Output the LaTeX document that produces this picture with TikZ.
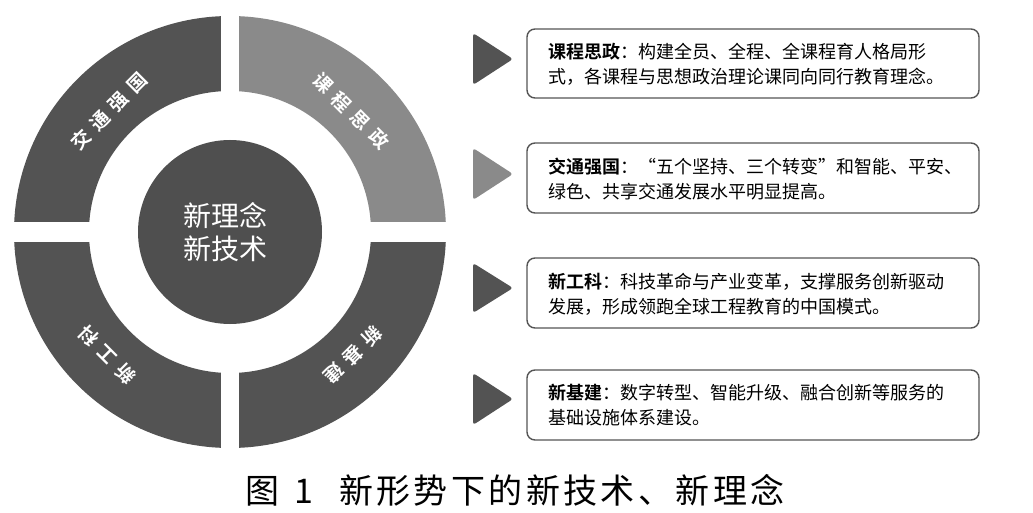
\documentclass[tikz,border=0pt]{standalone}
\usepackage{fontspec}
\setmainfont{Noto Sans CJK SC}[BoldFont={Noto Sans CJK SC Bold}]
\usetikzlibrary{calc}
\definecolor{segdark}{HTML}{535353}
\definecolor{seglight}{HTML}{8A8A8A}
\definecolor{hubcol}{HTML}{4F4F4F}
\definecolor{boxline}{HTML}{555555}
\tikzset{
  ringtxt/.style={text=white,font=\bfseries\fontsize{19}{19}\selectfont,inner sep=0pt},
  hubtxt/.style={text=white,font=\fontsize{28}{33}\selectfont,align=center,inner sep=0pt},
  infobox/.style={draw=boxline,line width=1.4pt,rounded corners=8pt,fill=white},
  infotxt/.style={font=\fontsize{18}{25}\selectfont,align=left,anchor=west,inner sep=0pt},
  tri/.style={rounded corners=3pt},
  gapbar/.style={fill=white}
}
\newcommand{\rgap}{\hspace{7.5pt}}
\begin{document}
\begin{tikzpicture}[x=1pt,y=-1pt]
\useasboundingbox[fill=white] (0,0) rectangle (1033,513);
\coordinate (C) at (230,232);
% ring sectors (angles in flipped coords: 180 left, 270 up, 0 right, 90 down)
\fill[segdark]  ($(C)+(180:216)$) arc[start angle=180,end angle=270,radius=216] -- ($(C)+(270:141)$) arc[start angle=270,end angle=180,radius=141] -- cycle;
\fill[seglight] ($(C)+(270:216)$) arc[start angle=270,end angle=360,radius=216] -- ($(C)+(0:141)$) arc[start angle=360,end angle=270,radius=141] -- cycle;
\fill[segdark]  ($(C)+(0:216)$) arc[start angle=0,end angle=90,radius=216] -- ($(C)+(90:141)$) arc[start angle=90,end angle=0,radius=141] -- cycle;
\fill[segdark]  ($(C)+(90:216)$) arc[start angle=90,end angle=180,radius=216] -- ($(C)+(180:141)$) arc[start angle=180,end angle=90,radius=141] -- cycle;
% gaps
\fill[gapbar] ($(C)+(-9,-220)$) rectangle ($(C)+(9,220)$);
\fill[gapbar] ($(C)+(-220,-10)$) rectangle ($(C)+(220,10)$);
% hub
\node[circle,fill=hubcol,minimum size=184pt,inner sep=0pt] (hub) at (C) {};
\node[hubtxt] (hubt) at ($(C)+(-5,0)$) {新理念\\新技术};
% ring labels
\node[ringtxt,rotate=45]   (s1) at ($(C)+(225:171)$) {交\rgap 通\rgap 强\rgap 国};
\node[ringtxt,rotate=-45]  (s2) at ($(C)+(315:171)$) {课\rgap 程\rgap 思\rgap 政};
\node[ringtxt,rotate=-135] (s3) at ($(C)+(45:174)$) {新\rgap 基\rgap 建};
\node[ringtxt,rotate=135]  (s4) at ($(C)+(135:174)$) {新\rgap 工\rgap 科};
% panels
\fill[segdark,tri] (473,33) -- (513,59) -- (473,85) -- cycle;
\draw[infobox] (527,29) rectangle (979,98);
\node[infotxt] (t1) at (548,64) {\textbf{课程思政}：构建全员、全程、全课程育人格局形\\式，各课程与思想政治理论课同向同行教育理念。};

\fill[seglight,tri] (473,148) -- (513,174) -- (473,200) -- cycle;
\draw[infobox] (527,143) rectangle (979,213);
\node[infotxt] (t2) at (548,179) {\textbf{交通强国}：“五个坚持、三个转变”和智能、平安、\\绿色、共享交通发展水平明显提高。};

\fill[segdark,tri] (473,263) -- (513,288) -- (473,313) -- cycle;
\draw[infobox] (527,258) rectangle (979,328);
\node[infotxt] (t3) at (548,294) {\textbf{新工科}：科技革命与产业变革，支撑服务创新驱动\\发展，形成领跑全球工程教育的中国模式。};

\fill[segdark,tri] (473,373) -- (513,399) -- (473,425) -- cycle;
\draw[infobox] (527,370) rectangle (979,440);
\node[infotxt] (t4) at (548,405) {\textbf{新基建}：数字转型、智能升级、融合创新等服务的\\基础设施体系建设。};
% caption
\node[font=\fontsize{34}{34}\selectfont,inner sep=0pt,anchor=west] (cap) at (245,490) {图\hspace{15pt}1\hspace{26pt}\addfontfeature{LetterSpace=10}新形势下的新技术、新理念};
\end{tikzpicture}
\end{document}
